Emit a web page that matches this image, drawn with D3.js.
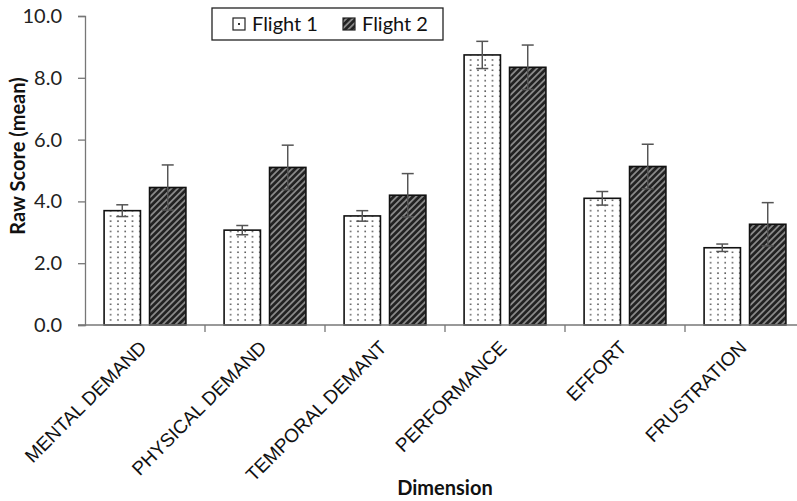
<!DOCTYPE html>
<html>
<head>
<meta charset="utf-8">
<script src="https://cdn.jsdelivr.net/npm/d3@7"></script>
<style>
  body { margin: 0; background: #fff; }
  svg { display: block; }
</style>
</head>
<body>
<div id="chart"></div>
<script>
(function nasa_tlx() {

  // values
  const dimensions = ["MENTAL DEMAND", "PHYSICAL DEMAND", "TEMPORAL DEMANT", "PERFORMANCE", "EFFORT", "FRUSTRATION"];
  const series = ["Flight 1", "Flight 2"];
  const flight1 = [3.70, 3.07, 3.53, 8.74, 4.10, 2.50];
  const flight1Err = [0.19, 0.15, 0.17, 0.44, 0.22, 0.12];
  const flight2 = [4.45, 5.10, 4.20, 8.34, 5.13, 3.26];
  const flight2Err = [0.73, 0.72, 0.70, 0.72, 0.72, 0.70];
  const yTicks = [0, 2, 4, 6, 8, 10];

  let height = 501,
    width = 797,
    margin = ({ top: 16, right: -8, bottom: 176, left: 85 });

  const svg = d3.select("#chart")
    .append("svg")
    .attr("width", width)
    .attr("height", height);

  // fill patterns
  const defs = svg.append("defs");
  let dots = defs.append("pattern")
    .attr("id", "dots")
    .attr("patternUnits", "userSpaceOnUse")
    .attr("width", 7.3)
    .attr("height", 5.2);
  dots.append("rect").attr("width", 7.3).attr("height", 5.2).attr("fill", "#fff");
  dots.append("rect").attr("x", 3).attr("y", 2).attr("width", 1.5).attr("height", 1.5).attr("fill", "#444");

  let stripes = defs.append("pattern")
    .attr("id", "stripes")
    .attr("patternUnits", "userSpaceOnUse")
    .attr("width", 4.5)
    .attr("height", 4.5)
    .attr("patternTransform", "rotate(45)");
  stripes.append("rect").attr("width", 4.5).attr("height", 4.5).attr("fill", "#222");
  stripes.append("rect").attr("width", 1.8).attr("height", 4.5).attr("fill", "#888");

  const fills = ["url(#dots)", "url(#stripes)"];

  let data = dimensions.map((d, i) => ({
    dim: d,
    vals: [
      { s: 0, v: flight1[i], e: flight1Err[i] },
      { s: 1, v: flight2[i], e: flight2Err[i] }
    ]
  }));

  let x = d3.scaleBand()
    .domain(dimensions)
    .range([margin.left, width - margin.right]);

  let xs = d3.scaleBand()
    .domain([0, 1])
    .range([0, x.bandwidth()])
    .paddingInner(0.2)
    .paddingOuter(0.42);

  let y = d3.scaleLinear()
    .domain([0, 10])
    .range([height - margin.bottom, margin.top]);

  // y axis
  let yAxis = svg.append("g")
    .attr("transform", `translate(${margin.left},0)`)
    .call(d3.axisLeft(y).tickValues(yTicks).tickSize(7).tickFormat(d3.format(".1f")));
  yAxis.select(".domain").attr("stroke", "#777").attr("stroke-width", 1.3);
  yAxis.selectAll(".tick line").attr("stroke", "#777").attr("stroke-width", 1.3);
  yAxis.selectAll("text")
    .attr("x", -23)
    .attr("font-family", "Lato, 'Open Sans', sans-serif")
    .attr("font-size", 20)
    .attr("fill", "#222");

  // bars
  let groups = svg.append("g")
    .selectAll("g")
    .data(data)
    .join("g")
    .attr("transform", d => `translate(${x(d.dim)},0)`);

  groups.selectAll("rect")
    .data(d => d.vals)
    .join("rect")
    .attr("x", d => xs(d.s))
    .attr("y", d => y(d.v))
    .attr("width", xs.bandwidth())
    .attr("height", d => y(0) - y(d.v))
    .attr("fill", d => fills[d.s])
    .attr("stroke", "#111")
    .attr("stroke-width", 1.6);

  // error bars
  let err = groups.selectAll("g.err")
    .data(d => d.vals)
    .join("g")
    .attr("class", "err")
    .attr("stroke", "#555")
    .attr("stroke-width", 1.5);

  err.append("line")
    .attr("x1", d => xs(d.s) + xs.bandwidth() / 2)
    .attr("x2", d => xs(d.s) + xs.bandwidth() / 2)
    .attr("y1", d => y(d.v - d.e))
    .attr("y2", d => y(d.v + d.e));

  for (let sign of [1, -1]) {
    err.append("line")
      .attr("x1", d => xs(d.s) + xs.bandwidth() / 2 - 6)
      .attr("x2", d => xs(d.s) + xs.bandwidth() / 2 + 6)
      .attr("y1", d => y(d.v + sign * d.e))
      .attr("y2", d => y(d.v + sign * d.e));
  }

  // x axis
  let xAxis = svg.append("g")
    .attr("transform", `translate(0,${y(0)})`);
  xAxis.append("line")
    .attr("x1", margin.left - 7)
    .attr("x2", width - margin.right)
    .attr("stroke", "#777")
    .attr("stroke-width", 1.3);
  xAxis.selectAll("line.tick")
    .data(dimensions.slice(1))
    .join("line")
    .attr("class", "tick")
    .attr("x1", d => x(d))
    .attr("x2", d => x(d))
    .attr("y1", 0)
    .attr("y2", 7)
    .attr("stroke", "#777")
    .attr("stroke-width", 1.3);

  xAxis.selectAll("text")
    .data(dimensions)
    .join("text")
    .attr("transform", d => `translate(${x(d) + x.bandwidth() / 2 - 7},${14}) rotate(-45)`)
    .attr("text-anchor", "end")
    .attr("dy", "0.72em")
    .attr("font-family", "'Liberation Sans', Arial, sans-serif")
    .attr("font-size", 19)
    .attr("fill", "#111")
    .text(d => d);

  // axis titles
  svg.append("text")
    .attr("transform", "translate(25,156) rotate(-90)")
    .attr("text-anchor", "middle")
    .attr("font-family", "Lato, 'Open Sans', sans-serif")
    .attr("font-weight", "bold")
    .attr("font-size", 20)
    .attr("fill", "#111")
    .text("Raw Score (mean)");

  svg.append("text")
    .attr("x", 445)
    .attr("y", 495)
    .attr("text-anchor", "middle")
    .attr("font-family", "Lato, 'Open Sans', sans-serif")
    .attr("font-weight", "bold")
    .attr("font-size", 20)
    .attr("fill", "#111")
    .text("Dimension");

  // legend
  let legend = svg.append("g").attr("transform", "translate(212,8)");
  legend.append("rect")
    .attr("width", 231)
    .attr("height", 32)
    .attr("fill", "#fff")
    .attr("stroke", "#222")
    .attr("stroke-width", 1.3);

  let items = legend.selectAll("g.item")
    .data(series)
    .join("g")
    .attr("class", "item")
    .attr("transform", (d, i) => `translate(${[21, 131][i]},0)`);

  items.append("rect")
    .attr("y", 10)
    .attr("width", 12)
    .attr("height", 12)
    .attr("fill", (d, i) => i === 0 ? "#fff" : fills[1])
    .attr("stroke", "#222")
    .attr("stroke-width", 1.2);
  items.filter((d, i) => i === 0).append("rect")
    .attr("x", 5).attr("y", 15).attr("width", 2).attr("height", 2).attr("fill", "#333");

  items.append("text")
    .attr("x", 19)
    .attr("y", 23)
    .attr("font-family", "Lato, 'Open Sans', sans-serif")
    .attr("font-size", 20)
    .attr("fill", "#111")
    .text(d => d);

})();
</script>
</body>
</html>
